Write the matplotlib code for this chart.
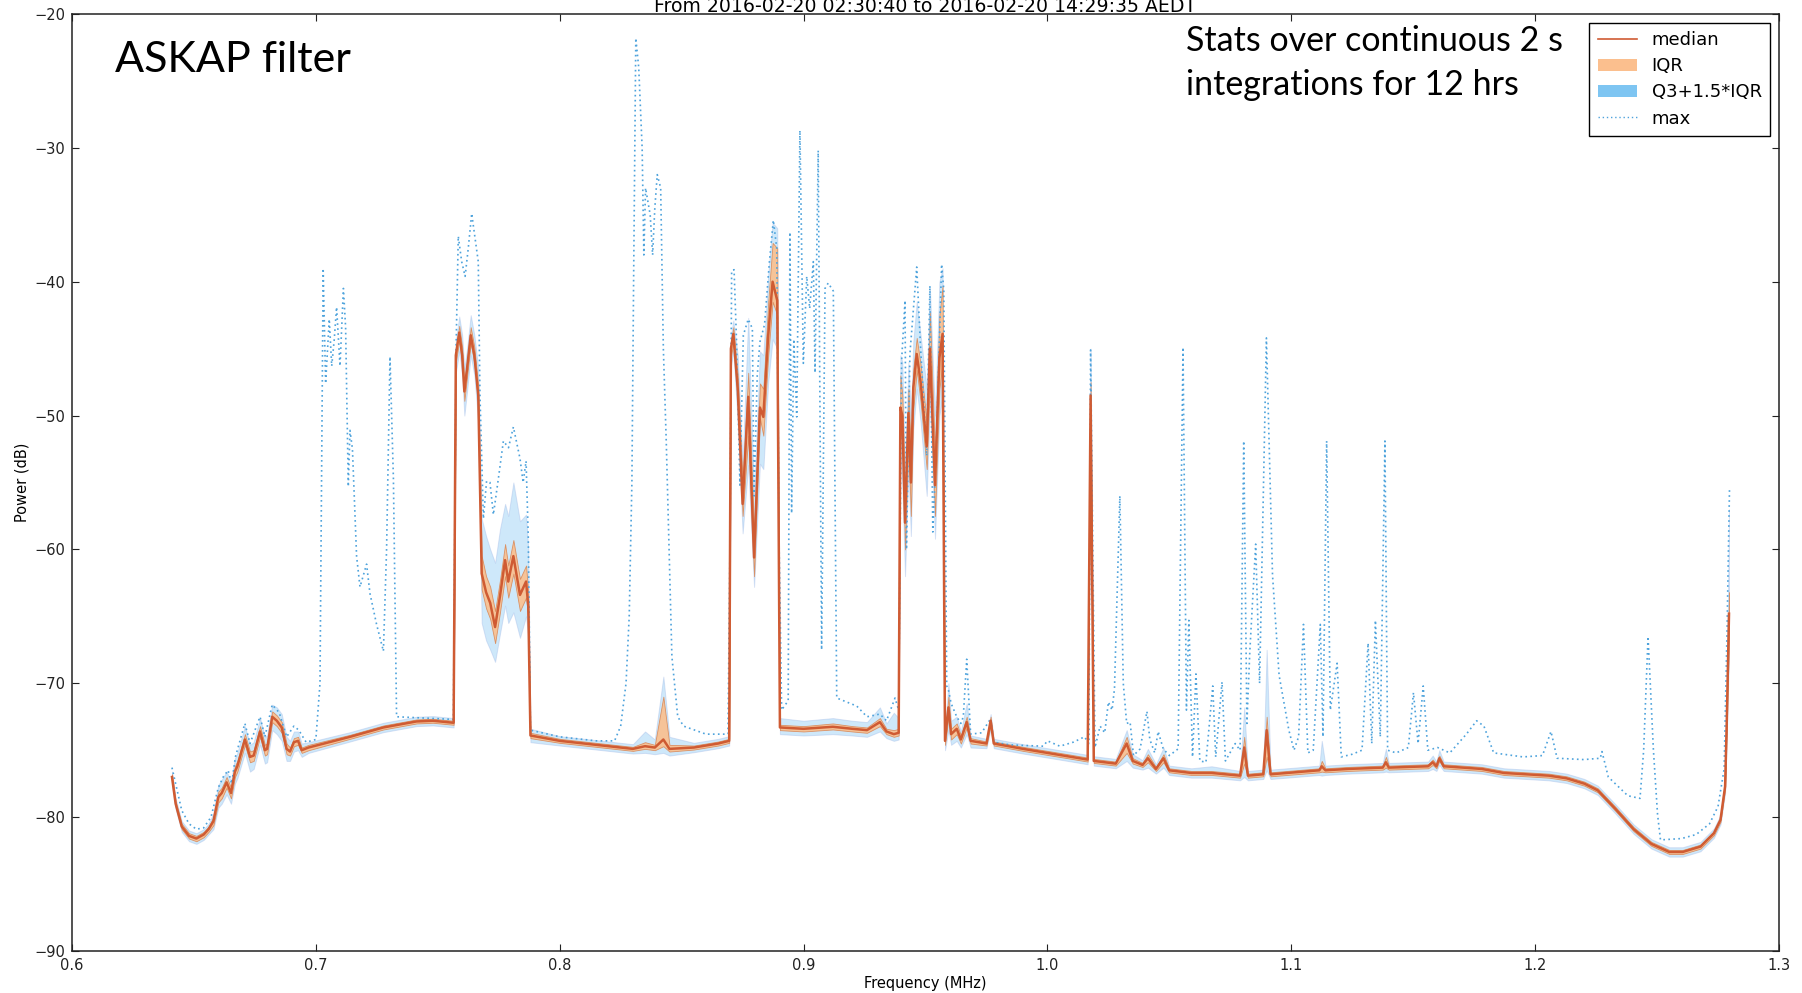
import matplotlib
matplotlib.use("Agg")
import matplotlib.pyplot as plt
from matplotlib.lines import Line2D
from matplotlib.patches import Patch

# ---------------- data ----------------
title = "From 2016-02-20 02:30:40 to 2016-02-20 14:29:35 AEDT"
xticks = [0.6, 0.7, 0.8, 0.9, 1.0, 1.1, 1.2, 1.3]
xtick_labels = ["0.6", "0.7", "0.8", "0.9", "1.0", "1.1", "1.2", "1.3"]
yticks = [-90, -80, -70, -60, -50, -40, -30, -20]

freq = [0.6410, 0.6425, 0.6450, 0.6480, 0.6510, 0.6540, 0.6560, 0.6580, 0.6600, 0.6614,
        0.6634, 0.6652, 0.6668, 0.6678, 0.6709, 0.6730, 0.6745, 0.6771, 0.6791, 0.6800,
        0.6821, 0.6840, 0.6860, 0.6880, 0.6894, 0.6910, 0.6927, 0.6942, 0.6970,
        0.7140, 0.7277, 0.7413, 0.7480, 0.7565,
        0.7574, 0.7588, 0.7600, 0.7609, 0.7620, 0.7635, 0.7650, 0.7666, 0.7680, 0.7698,
        0.7715, 0.7735, 0.7755, 0.7776, 0.7789, 0.7810, 0.7837, 0.7862, 0.7871, 0.7880,
        0.8000, 0.8150, 0.8300, 0.8350, 0.8390, 0.8425, 0.8450, 0.8550, 0.8650, 0.8695,
        0.8702, 0.8712, 0.8730, 0.8750, 0.8773, 0.8797, 0.8821, 0.8835, 0.8855, 0.8873,
        0.8892, 0.8903,
        0.9000, 0.9120, 0.9200, 0.9260, 0.9313, 0.9340, 0.9370, 0.9390,
        0.9397, 0.9405, 0.9416, 0.9430, 0.9440, 0.9450, 0.9464, 0.9480, 0.9505, 0.9518,
        0.9539, 0.9557, 0.9570, 0.9580,
        0.9594, 0.9605, 0.9628, 0.9645, 0.9669, 0.9685, 0.9750, 0.9767, 0.9780, 0.9900,
        1.0000, 1.0100, 1.0165, 1.0177, 1.0190,
        1.0280, 1.0325, 1.0350, 1.0390, 1.0412, 1.0445, 1.0476, 1.0499, 1.0590, 1.0673,
        1.0790, 1.0807, 1.0822, 1.0885, 1.0899, 1.0915, 1.1049, 1.1115, 1.1125, 1.1140,
        1.1232, 1.1375, 1.1388, 1.1400, 1.1561, 1.1580, 1.1595, 1.1607, 1.1625, 1.1781,
        1.1872, 1.2056, 1.2129, 1.2202, 1.2257, 1.2330, 1.2404, 1.2477, 1.2550, 1.2605,
        1.2678, 1.2733, 1.2760, 1.2779, 1.2786, 1.2795]

p_median = [-77.0, -79.0, -80.7, -81.4, -81.6, -81.3, -80.9, -80.3, -78.5, -78.2,
            -77.4, -78.2, -76.6, -76.2, -74.2, -75.5, -75.4, -73.6, -75.0, -74.9,
            -72.5, -72.8, -73.3, -74.9, -75.1, -74.4, -74.3, -75.0, -74.8,
            -74.0, -73.3, -72.85, -72.8, -72.95,
            -45.5, -43.8, -45.5, -48.2, -46.5, -44.0, -45.5, -48.5, -61.8, -63.2,
            -64.0, -65.8, -63.5, -60.8, -62.4, -60.5, -63.4, -62.4, -64.2, -73.9,
            -74.3, -74.6, -74.9, -74.7, -74.8, -74.2, -74.9, -74.8, -74.5, -74.3,
            -45.0, -43.9, -48.0, -56.6, -48.6, -60.6, -49.4, -50.1, -44.0, -40.0,
            -41.4, -73.3,
            -73.4, -73.25, -73.4, -73.5, -72.9, -73.6, -73.8, -73.7,
            -49.4, -50.0, -58.0, -49.8, -55.0, -47.9, -45.4, -47.5, -52.3, -45.0,
            -55.2, -45.7, -43.9, -74.3,
            -71.8, -73.8, -73.4, -74.2, -72.9, -74.3, -74.5, -72.8, -74.5, -74.9,
            -75.2, -75.5, -75.7, -48.5, -75.8,
            -76.0, -74.5, -75.8, -76.1, -75.6, -76.4, -75.6, -76.5, -76.7, -76.7,
            -76.9, -74.8, -76.9, -76.8, -73.5, -76.8, -76.6, -76.5, -76.2, -76.5,
            -76.4, -76.3, -75.9, -76.3, -76.2, -75.9, -76.2, -75.6, -76.2, -76.4,
            -76.7, -76.9, -77.1, -77.5, -78.0, -79.4, -80.9, -82.0, -82.6, -82.6,
            -82.2, -81.2, -80.2, -77.7, -72.7, -64.8]

p_q1 = [-77.2, -79.2, -80.9, -81.6, -81.8, -81.5, -81.1, -80.6, -78.9, -78.6,
        -77.8, -78.6, -77.0, -76.6, -74.6, -75.9, -75.8, -74.0, -75.4, -75.3,
        -72.9, -73.2, -73.7, -75.3, -75.4, -74.7, -74.6, -75.2, -75.0,
        -74.15, -73.45, -73.0, -72.95, -73.1,
        -46.0, -44.4, -46.1, -48.9, -47.1, -44.6, -46.1, -49.2, -63.0, -64.4,
        -65.2, -67.0, -64.7, -62.0, -63.6, -61.8, -64.6, -63.6, -65.2, -74.1,
        -74.45, -74.75, -75.05, -74.9, -75.0, -74.7, -75.1, -74.95, -74.65, -74.45,
        -45.6, -44.5, -49.0, -57.5, -51.5, -62.0, -50.2, -51.5, -45.5, -41.5,
        -42.5, -73.5,
        -73.6, -73.45, -73.6, -73.7, -73.2, -73.8, -74.0, -73.9,
        -51.0, -52.0, -60.0, -52.0, -57.5, -49.5, -46.6, -49.0, -54.0, -47.0,
        -57.5, -48.0, -46.0, -74.6,
        -72.5, -74.2, -73.8, -74.5, -73.3, -74.5, -74.65, -73.1, -74.65, -75.05,
        -75.35, -75.65, -75.85, -50.0, -75.95,
        -76.15, -75.2, -76.0, -76.25, -75.9, -76.55, -75.9, -76.65, -76.85, -76.85,
        -77.05, -76.0, -77.05, -76.95, -75.5, -76.95, -76.75, -76.65, -76.6, -76.65,
        -76.55, -76.45, -76.3, -76.45, -76.35, -76.1, -76.35, -75.8, -76.35, -76.55,
        -76.85, -77.05, -77.25, -77.65, -78.15, -79.55, -81.05, -82.15, -82.75, -82.75,
        -82.35, -81.35, -80.35, -77.9, -73.2, -66.5]

p_q3 = [-76.8, -78.8, -80.5, -81.2, -81.4, -81.1, -80.7, -80.0, -78.1, -77.8,
        -77.0, -77.8, -76.2, -75.8, -73.8, -75.1, -75.0, -73.2, -74.6, -74.5,
        -72.1, -72.4, -72.9, -74.5, -74.8, -74.1, -74.0, -74.8, -74.6,
        -73.85, -73.15, -72.7, -72.65, -72.8,
        -45.0, -43.3, -44.9, -47.5, -45.9, -43.4, -44.9, -47.8, -60.5, -62.0,
        -62.8, -64.6, -62.3, -59.6, -61.2, -59.3, -62.2, -61.2, -63.2, -73.7,
        -74.15, -74.45, -74.75, -74.4, -74.6, -71.0, -74.6, -74.65, -74.35, -74.15,
        -44.5, -43.4, -47.0, -55.0, -46.8, -58.8, -47.6, -48.0, -41.5, -37.1,
        -37.5, -73.1,
        -73.2, -73.0, -73.2, -73.3, -72.6, -73.4, -73.5, -73.4,
        -47.0, -48.5, -56.0, -48.0, -53.0, -46.5, -44.2, -46.2, -50.5, -42.3,
        -53.0, -42.5, -40.3, -74.0,
        -71.0, -73.4, -73.0, -73.9, -72.5, -74.1, -74.35, -72.5, -74.35, -74.75,
        -75.05, -75.35, -75.55, -47.5, -75.65,
        -75.85, -74.0, -75.6, -75.95, -75.3, -76.25, -75.3, -76.35, -76.55, -76.55,
        -76.75, -74.0, -76.75, -76.65, -72.5, -76.65, -76.45, -76.35, -75.8, -76.35,
        -76.25, -76.15, -75.5, -76.15, -76.05, -75.7, -76.05, -75.4, -76.05, -76.25,
        -76.55, -76.75, -76.95, -77.35, -77.85, -79.25, -80.75, -81.85, -82.45, -82.45,
        -82.05, -81.05, -80.05, -77.5, -72.2, -63.2]

p_lo = [-77.5, -79.4, -81.1, -81.8, -82.0, -81.7, -81.3, -80.9, -79.3, -79.0,
        -78.3, -79.0, -77.5, -77.1, -75.2, -76.6, -76.4, -74.6, -76.0, -75.9,
        -73.5, -73.8, -74.3, -75.8, -75.8, -75.1, -75.0, -75.5, -75.2,
        -74.35, -73.65, -73.2, -73.15, -73.3,
        -46.8, -45.2, -47.0, -50.0, -48.2, -45.5, -47.0, -50.5, -65.5, -66.8,
        -67.5, -68.4, -66.3, -64.2, -65.5, -64.7, -66.6, -65.0, -66.5, -74.4,
        -74.65, -74.95, -75.25, -75.2, -75.3, -75.2, -75.4, -75.15, -74.85, -74.65,
        -46.3, -45.2, -50.5, -58.8, -53.7, -62.8, -53.6, -54.0, -47.5, -44.3,
        -45.0, -73.8,
        -73.9, -73.8, -73.9, -74.0, -73.6, -74.1, -74.3, -74.2,
        -53.0, -55.0, -62.0, -54.0, -59.0, -51.0, -48.0, -50.5, -56.0, -49.0,
        -59.2, -50.0, -48.5, -75.0,
        -73.5, -74.6, -74.3, -74.8, -73.8, -74.8, -74.85, -73.4, -74.85, -75.25,
        -75.55, -75.85, -76.05, -52.0, -76.15,
        -76.35, -75.8, -76.3, -76.45, -76.3, -76.75, -76.3, -76.85, -77.05, -77.05,
        -77.25, -77.0, -77.25, -77.15, -76.5, -77.15, -76.95, -76.85, -76.9, -76.85,
        -76.75, -76.65, -76.6, -76.65, -76.55, -76.4, -76.55, -76.1, -76.55, -76.75,
        -77.05, -77.25, -77.45, -77.85, -78.35, -79.75, -81.25, -82.35, -82.95, -82.95,
        -82.55, -81.55, -80.55, -78.2, -73.8, -68.0]

p_hi = [-76.6, -78.6, -80.3, -81.0, -81.2, -80.9, -80.5, -79.7, -77.6, -77.2,
        -76.6, -77.3, -75.6, -75.2, -73.2, -74.6, -74.4, -72.6, -74.0, -73.9,
        -71.6, -71.8, -72.3, -74.0, -74.3, -73.6, -73.6, -74.5, -74.4,
        -73.65, -72.95, -72.5, -72.45, -72.6,
        -44.4, -42.6, -44.0, -46.5, -45.0, -42.5, -44.0, -46.5, -57.7, -59.0,
        -60.0, -61.0, -58.5, -56.6, -57.5, -55.0, -57.9, -57.4, -60.0, -73.4,
        -73.95, -74.25, -74.55, -73.6, -74.2, -69.5, -74.0, -74.45, -74.15, -73.95,
        -44.0, -42.9, -45.5, -53.5, -42.7, -56.0, -45.2, -45.5, -39.5, -35.6,
        -36.0, -72.6,
        -72.8, -72.6, -72.8, -72.9, -71.8, -73.0, -72.2, -72.6,
        -45.5, -46.0, -54.0, -46.0, -50.0, -44.5, -41.5, -44.0, -48.0, -40.5,
        -50.0, -40.0, -39.0, -73.5,
        -70.0, -72.8, -72.5, -73.6, -71.5, -73.9, -74.15, -72.3, -74.15, -74.55,
        -74.85, -75.15, -75.35, -45.0, -75.45,
        -75.65, -73.5, -75.3, -75.75, -74.9, -76.05, -74.8, -76.15, -76.35, -76.2,
        -76.55, -71.8, -76.55, -76.45, -67.5, -76.45, -76.25, -76.15, -74.3, -76.15,
        -76.05, -75.95, -74.9, -75.95, -75.85, -75.4, -75.85, -75.0, -75.85, -76.05,
        -76.35, -76.55, -76.75, -77.15, -77.65, -79.05, -80.55, -81.65, -82.25, -82.25,
        -81.85, -80.85, -79.85, -77.2, -71.5, -57.0]

freq_max = [0.6410, 0.6450, 0.6480, 0.6510, 0.6540, 0.6570, 0.6600, 0.6620, 0.6640, 0.6655,
            0.6670, 0.6709, 0.6730, 0.6771, 0.6791, 0.6821, 0.6850, 0.6880, 0.6910, 0.6930,
            0.6960, 0.7000, 0.7017, 0.7030, 0.7040, 0.7055, 0.7065, 0.7075, 0.7085, 0.7099,
            0.7113, 0.7122, 0.7133, 0.7140, 0.7150, 0.7167, 0.7181, 0.7208, 0.7222, 0.7249,
            0.7277, 0.7290, 0.7304, 0.7318, 0.7331, 0.7450, 0.7564, 0.7575, 0.7584, 0.7598,
            0.7612, 0.7625, 0.7639, 0.7655, 0.7666, 0.7673, 0.7687, 0.7700, 0.7714, 0.7728,
            0.7750, 0.7769, 0.7790, 0.7810, 0.7837, 0.7850, 0.7862, 0.7871, 0.7880, 0.8000,
            0.8150, 0.8225, 0.8250, 0.8272, 0.8285, 0.8296, 0.8303, 0.8312, 0.8324, 0.8338,
            0.8345, 0.8352, 0.8371, 0.8381, 0.8390, 0.8400, 0.8414, 0.8425, 0.8437, 0.8460,
            0.8484, 0.8508, 0.8600, 0.8690, 0.8698, 0.8705, 0.8715, 0.8725, 0.8739, 0.8753,
            0.8773, 0.8790, 0.8797, 0.8810, 0.8821, 0.8840, 0.8860, 0.8876, 0.8890, 0.8900,
            0.8910, 0.8937, 0.8944, 0.8951, 0.8960, 0.8972, 0.8985, 0.8999, 0.9013, 0.9025,
            0.9040, 0.9047, 0.9060, 0.9074, 0.9088, 0.9101, 0.9122, 0.9136, 0.9177, 0.9218,
            0.9260, 0.9313, 0.9340, 0.9375, 0.9390, 0.9402, 0.9416, 0.9422, 0.9436, 0.9464,
            0.9480, 0.9505, 0.9518, 0.9530, 0.9545, 0.9566, 0.9575, 0.9587, 0.9594, 0.9605,
            0.9628, 0.9645, 0.9655, 0.9669, 0.9685, 0.9730, 0.9767, 0.9780, 0.9846, 0.9983,
            1.0000, 1.0051, 1.0106, 1.0152, 1.0170, 1.0177, 1.0195, 1.0216, 1.0235, 1.0250,
            1.0265, 1.0275, 1.0297, 1.0311, 1.0325, 1.0339, 1.0353, 1.0380, 1.0408, 1.0420,
            1.0440, 1.0454, 1.0475, 1.0500, 1.0536, 1.0556, 1.0570, 1.0580, 1.0595, 1.0609,
            1.0625, 1.0650, 1.0678, 1.0690, 1.0716, 1.0730, 1.0770, 1.0790, 1.0805, 1.0818,
            1.0830, 1.0854, 1.0870, 1.0898, 1.0923, 1.0950, 1.0990, 1.1011, 1.1030, 1.1050,
            1.1068, 1.1090, 1.1119, 1.1130, 1.1145, 1.1160, 1.1188, 1.1205, 1.1250, 1.1290,
            1.1315, 1.1330, 1.1345, 1.1365, 1.1384, 1.1395, 1.1430, 1.1480, 1.1501, 1.1520,
            1.1541, 1.1560, 1.1600, 1.1650, 1.1718, 1.1760, 1.1790, 1.1830, 1.1950, 1.2030,
            1.2065, 1.2090, 1.2200, 1.2267, 1.2274, 1.2300, 1.2380, 1.2430, 1.2445, 1.2463,
            1.2485, 1.2502, 1.2514, 1.2600, 1.2660, 1.2715, 1.2750, 1.2775, 1.2787, 1.2797]

p_max = [-76.3, -79.5, -80.5, -80.9, -80.8, -80.0, -77.8, -77.0, -76.5, -77.5,
         -75.5, -73.0, -74.5, -72.5, -74.0, -71.6, -72.2, -74.0, -73.2, -73.5,
         -74.4, -74.2, -70.0, -39.0, -47.6, -42.8, -46.3, -44.4, -41.9, -46.3,
         -40.5, -43.4, -55.3, -51.1, -52.5, -60.5, -62.8, -61.1, -63.3, -65.6,
         -67.6, -60.0, -45.6, -54.7, -72.5, -72.6, -72.7, -45.0, -36.6, -38.5,
         -39.6, -37.5, -34.9, -37.0, -38.5, -48.5, -57.7, -54.9, -55.0, -57.4,
         -54.5, -51.9, -52.4, -50.85, -53.2, -55.0, -53.4, -59.0, -73.5, -74.0,
         -74.3, -74.3, -73.2, -70.0, -65.0, -55.0, -40.0, -21.8, -24.0, -30.0,
         -38.0, -33.0, -35.0, -38.0, -34.5, -32.0, -33.0, -45.0, -52.0, -68.0,
         -72.5, -73.2, -73.8, -73.8, -60.0, -39.2, -39.1, -44.4, -55.2, -44.0,
         -42.8, -43.5, -56.0, -47.0, -44.5, -43.2, -38.5, -35.4, -37.5, -60.0,
         -72.0, -71.3, -36.3, -57.3, -44.3, -50.1, -28.7, -46.1, -39.6, -42.0,
         -38.5, -46.8, -30.2, -67.5, -40.5, -40.1, -40.7, -71.1, -71.4, -71.7,
         -72.5, -72.3, -72.8, -71.1, -72.0, -45.9, -41.4, -60.0, -45.4, -38.9,
         -45.0, -53.0, -40.3, -58.7, -52.0, -38.7, -40.6, -70.2, -70.5, -71.5,
         -72.5, -73.0, -72.5, -68.2, -73.8, -73.7, -72.65, -74.4, -74.6, -74.7,
         -74.3, -74.7, -74.4, -74.0, -74.5, -45.1, -74.8, -73.2, -73.7, -71.4,
         -72.0, -70.4, -56.0, -70.0, -73.0, -72.9, -75.4, -74.9, -72.1, -74.2,
         -75.2, -73.6, -74.9, -75.4, -74.9, -44.9, -72.0, -65.3, -75.5, -69.3,
         -75.8, -75.9, -70.2, -75.5, -69.9, -75.8, -74.5, -75.0, -51.9, -73.0,
         -67.6, -59.6, -70.0, -44.2, -61.9, -69.4, -73.5, -75.0, -74.0, -65.6,
         -75.2, -75.0, -65.6, -74.0, -51.9, -72.0, -68.5, -75.5, -75.3, -75.0,
         -67.0, -74.5, -65.3, -74.0, -51.9, -75.0, -75.2, -74.8, -70.7, -74.5,
         -70.2, -75.0, -74.8, -75.2, -73.8, -72.8, -73.2, -75.2, -75.5, -75.4,
         -73.6, -75.6, -75.7, -75.6, -75.1, -77.0, -78.4, -78.6, -75.0, -66.5,
         -75.0, -79.8, -81.7, -81.6, -81.3, -80.5, -79.2, -76.4, -66.0, -55.5]

# ---------------- colours ----------------
c_median = "#cf5b33"
c_iqr = "#fbbf8e"
c_whisk = "#7ec5f2"
c_max = "#4ea3dc"

# ---------------- figure ----------------
fig = plt.figure(figsize=(18.02, 9.93), dpi=100)
ax = fig.add_axes([72 / 1802, 1 - 951 / 993, 1707 / 1802, 937 / 993])

ax.fill_between(freq, p_lo, p_hi, facecolor=c_whisk, alpha=0.38,
                edgecolor="#9fb6e6", linewidth=0.7, zorder=1)
ax.fill_between(freq, p_q1, p_q3, facecolor=c_iqr, alpha=0.9,
                edgecolor="#d98a5a", linewidth=0.6, zorder=2)
ax.plot(freq_max, p_max, linestyle=(0, (1, 2)), color=c_max, linewidth=1.2, zorder=3)
ax.plot(freq, p_median, color=c_median, linewidth=1.8, zorder=4)

ax.set_xlim(0.6, 1.3)
ax.set_ylim(-90, -20)
ax.set_xticks(xticks)
ax.set_xticklabels(xtick_labels)
ax.set_yticks(yticks)
ax.tick_params(direction="in", top=True, right=True, length=5, width=0.8,
               labelsize=10.5, pad=5, colors="#222222")
for s in ax.spines.values():
    s.set_linewidth(1.1)
    s.set_color("#222222")

ax.set_xlabel("Frequency (MHz)", fontsize=10.5, labelpad=2)
ax.set_ylabel("Power (dB)", fontsize=10.5, labelpad=3)
ax.set_title(title, fontsize=13.6, pad=1.5)

handles = [Line2D([], [], color=c_median, linewidth=1.2),
           Patch(facecolor=c_iqr, edgecolor="none"),
           Patch(facecolor=c_whisk, edgecolor="none"),
           Line2D([], [], color=c_max, linestyle=(0, (1, 2)), linewidth=1.0)]
leg = ax.legend(handles, ["median", "IQR", "Q3+1.5*IQR", "max"], loc="upper right",
                fontsize=13, fancybox=False, framealpha=1, edgecolor="black",
                handlelength=2.2, borderpad=0.45, labelspacing=0.45)
leg.get_frame().set_linewidth(1.0)

ax.text(0.025, 0.951, "ASKAP filter", transform=ax.transAxes, fontsize=31,
        family="Lato", va="center", ha="left", color="black")
ax.text(0.6525, 0.988, "Stats over continuous 2 s\nintegrations for 12 hrs",
        transform=ax.transAxes, fontsize=24.5, family="Lato", va="top", ha="left",
        linespacing=1.45, color="black")

fig.savefig("out.png", dpi=100)
